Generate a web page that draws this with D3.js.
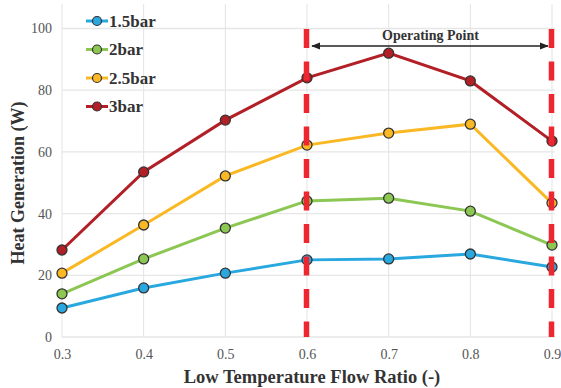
<!DOCTYPE html>
<html>
<head>
<meta charset="utf-8">
<script src="https://cdn.jsdelivr.net/npm/d3@7"></script>
<style>
  body { margin: 0; background: #fff; }
</style>
</head>
<body>
<svg id="chart" width="561" height="388"></svg>
<script>
// flow ratio on x, heat generation (W) on y
var flowRatio = [0.3, 0.4, 0.5, 0.6, 0.7, 0.8, 0.9];
var seriesNames = ["1.5bar", "2bar", "2.5bar", "3bar"];
var heat_15 = [9.4, 15.9, 20.7, 25.0, 25.3, 26.9, 22.7];
var heat_2  = [14.0, 25.3, 35.3, 44.1, 45.0, 40.8, 29.8];
var heat_25 = [20.7, 36.3, 52.2, 62.2, 66.1, 69.0, 43.4];
var heat_3  = [28.2, 53.5, 70.3, 84.0, 92.0, 83.0, 63.5];
var colors = ["#29a8e0", "#8cc653", "#f9b824", "#b21f26"];
var yTicks = [0, 20, 40, 60, 80, 100];
var opRange = [0.6, 0.9];
var opLabel = "Operating Point";

var allSeries = [heat_15, heat_2, heat_25, heat_3];
var FONT = "'Liberation Serif', 'Times New Roman', serif";

var svg = d3.select("#chart");
var x = d3.scaleLinear().domain([0.3, 0.9]).range([62, 552]);
var y = d3.scaleLinear().domain([0, 100]).range([337, 28.5]);
var topY = 4, rightX = 555;

var g = svg.append("g");

// grid
g.selectAll("line.hgrid").data(yTicks).enter().append("line")
  .attr("x1", 62).attr("x2", rightX)
  .attr("y1", function(d){ return y(d); }).attr("y2", function(d){ return y(d); })
  .style("stroke", "#e6e6e6").style("stroke-width", 1.3);
g.selectAll("line.vgrid").data(flowRatio).enter().append("line")
  .attr("x1", function(d){ return x(d); }).attr("x2", function(d){ return x(d); })
  .attr("y1", topY).attr("y2", 337)
  .style("stroke", "#e3e3e3").style("stroke-width", 1);

// axes (labels only)
var xAxis = d3.axisBottom(x).tickValues(flowRatio).tickSize(0).tickPadding(12)
  .tickFormat(d3.format(".1f"));
var xg = g.append("g").attr("transform", "translate(0,337)").call(xAxis);
var yAxis = d3.axisLeft(y).tickValues(yTicks).tickSize(0).tickPadding(10);
var yg = g.append("g").attr("transform", "translate(62,0)").call(yAxis);
[xg, yg].forEach(function(a){
  a.select(".domain").remove();
  a.selectAll("text").style("font-family", FONT)
    .style("font-size", "14px").style("fill", "#555");
});

// axis titles
svg.append("text").attr("x", 312).attr("y", 383).attr("text-anchor", "middle")
  .style("font-family", FONT)
  .style("font-weight", "bold").style("font-size", "18.5px").style("fill", "#333")
  .text("Low Temperature Flow Ratio (-)");
svg.append("text").attr("transform", "translate(24,183) rotate(-90)")
  .attr("text-anchor", "middle")
  .style("font-family", FONT)
  .style("font-weight", "bold").style("font-size", "18px").style("fill", "#333")
  .text("Heat Generation (W)");

// lines + markers
var line = d3.line().x(function(d, i){ return x(flowRatio[i]); }).y(function(d){ return y(d); });
allSeries.forEach(function(s, k){
  g.append("path").datum(s).attr("d", line)
    .style("fill", "none").style("stroke", colors[k]).style("stroke-width", 3);
});
allSeries.forEach(function(s, k){
  g.selectAll("circle.s" + k).data(s).enter().append("circle")
    .attr("cx", function(d, i){ return x(flowRatio[i]); })
    .attr("cy", function(d){ return y(d); })
    .attr("r", 5)
    .style("fill", colors[k]).style("stroke", "#333").style("stroke-width", 1.3);
});

// operating point markers
g.selectAll("line.op").data(opRange).enter().append("line")
  .attr("x1", function(d){ return x(d) - 0.5; }).attr("x2", function(d){ return x(d) - 0.5; })
  .attr("y1", 29).attr("y2", 337)
  .style("stroke", "#ee2630").style("stroke-width", 5.5)
  .style("stroke-dasharray", "19,13.5");

svg.append("defs").selectAll("marker").data(["s", "e"]).enter().append("marker")
  .attr("id", function(d){ return "arr" + d; })
  .attr("viewBox", "0 0 10 10").attr("refX", 9).attr("refY", 5)
  .attr("markerWidth", 6).attr("markerHeight", 6)
  .attr("orient", "auto-start-reverse")
  .append("path").attr("d", "M0,1 L10,5 L0,9 Z").style("fill", "#222");
g.append("line")
  .attr("x1", x(opRange[0]) + 5).attr("x2", x(opRange[1]) - 4)
  .attr("y1", 46).attr("y2", 46)
  .style("stroke", "#222").style("stroke-width", 1.5)
  .attr("marker-start", "url(#arrs)").attr("marker-end", "url(#arre)");
g.append("text").attr("x", (x(opRange[0]) + x(opRange[1])) / 2 + 1).attr("y", 40)
  .attr("text-anchor", "middle")
  .style("font-family", FONT)
  .style("font-weight", "bold").style("font-size", "14px").style("fill", "#333")
  .text(opLabel);

// legend
var leg = svg.append("g").selectAll("g").data(seriesNames).enter().append("g")
  .attr("transform", function(d, i){ return "translate(86," + (21 + i * 28.5) + ")"; });
leg.append("line").attr("x1", 0).attr("x2", 22).attr("y1", 0).attr("y2", 0)
  .style("stroke", function(d, i){ return colors[i]; }).style("stroke-width", 3);
leg.append("circle").attr("cx", 11).attr("cy", 0).attr("r", 4.5)
  .style("fill", function(d, i){ return colors[i]; })
  .style("stroke", "#333").style("stroke-width", 1.2);
leg.append("text").attr("x", 23).attr("y", 5.5)
  .style("font-family", FONT)
  .style("font-weight", "bold").style("font-size", "17px").style("fill", "#333")
  .text(function(d){ return d; });
</script>
</body>
</html>
